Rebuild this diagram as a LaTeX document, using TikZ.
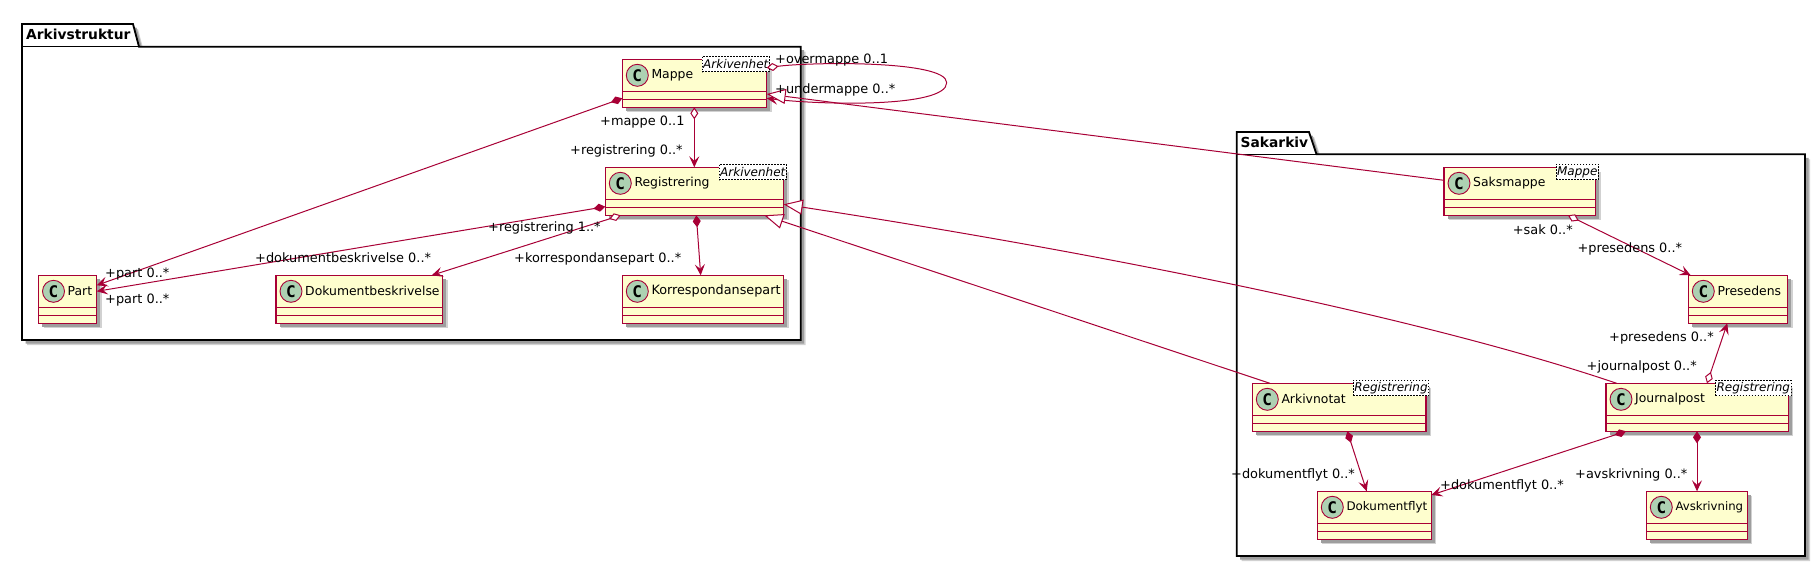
\documentclass[tikz,border=0pt]{standalone}
\usepackage{fontspec}
\setmainfont{DejaVu Sans}
\newfontfamily\iconfont{DejaVu Sans Mono}
\usetikzlibrary{shadows, arrows.meta}

\definecolor{umlred}{HTML}{A80036}
\definecolor{umlfill}{HTML}{FEFECE}
\definecolor{umlicon}{HTML}{ADD1B2}

\tikzset{
	softshadow/.style={general shadow={shadow xshift=5pt, shadow yshift=-5pt, fill=black!18}, general shadow={shadow xshift=3.5pt, shadow yshift=-3.5pt, fill=black!38}},
	package/.style={draw=black, line width=1.8pt, fill=white, softshadow},
	packagename/.style={inner sep=0pt, anchor=west, font=\fontsize{13.8}{16}\bfseries\selectfont},
	classbox/.style={draw=umlred, line width=1.4pt, fill=umlfill, anchor=north west, minimum height=48pt, inner sep=0pt, outer sep=0pt, softshadow},
	classline/.style={draw=umlred, line width=1.1pt},
	classicon/.style={draw=umlred, line width=0.9pt, fill=umlicon, circle, minimum size=22pt, inner sep=0pt, font=\fontsize{16}{16}\iconfont\bfseries\selectfont},
	classname/.style={inner sep=0pt, anchor=west, font=\fontsize{12.4}{14}\selectfont},
	stereo/.style={draw=black, dashed, dash pattern=on 1.5pt off 1.5pt, line width=0.6pt, fill=white, anchor=north east, minimum height=15.3pt, inner xsep=1pt, inner ysep=0pt, font=\fontsize{12}{14}\itshape\selectfont},
	role/.style={inner sep=0pt, anchor=west, text height=9.5pt, text depth=3pt, font=\fontsize{12.9}{14}\selectfont},
	link/.style={draw=umlred, line width=1pt},
	arrowend/.tip={Stealth[length=11pt, width=10pt, inset=4.5pt]},
	aggr/.style={link, {Diamond[open, fill=white, length=12pt, width=8pt]}-arrowend},
	comp/.style={link, {Diamond[length=12pt, width=8pt]}-arrowend},
	extends/.style={link, -{Triangle[open, fill=white, length=19pt, width=15pt]}}
}

\newcommand{\umlclass}[6][]{
	\node[classbox, minimum width=#5pt] (#2) at (#3,#4) {};
	\draw[classline] ([yshift=-32pt]#2.north west) -- ([yshift=-32pt]#2.north east);
	\draw[classline] ([yshift=-40pt]#2.north west) -- ([yshift=-40pt]#2.north east);
	\node[classicon] (#2-icon) at ([xshift=15pt,yshift=-16pt]#2.north west) {C};
	\node[classname, #1] (#2-name) at ([xshift=29pt,yshift=-15.8pt]#2.north west) {#6};
}
\newcommand{\umlstereo}[2]{
	\node[stereo] (#1-stereo) at ([xshift=3pt,yshift=3.3pt]#1.north east) {#2};
}

\begin{document}
\begin{tikzpicture}[x=1pt, y=-1pt]
	\useasboundingbox (0,0) rectangle (1815,566);
	
	% Arkivstruktur package
	\path[package] (22,46.7) -- (22,24) -- (133,24) -- (139,46.7) -- (800.7,46.7) -- (800.7,340) -- (22,340) -- cycle;
	\draw[line width=1.4pt] (22,46.7) -- (139,46.7);
	\node[packagename] (arkivstruktur) at (26,34.3) {Arkivstruktur};
	
	\umlclass{mappe}{622.3}{59.3}{144.4}{Mappe}
	\umlstereo{mappe}{Arkivenhet}
	\umlclass{registrering}{605.3}{167.3}{178.4}{Registrering}
	\umlstereo{registrering}{Arkivenhet}
	\umlclass{part}{38.5}{275.3}{58.2}{Part}
	\umlclass{dokumentbeskrivelse}{276}{275.3}{166.7}{Dokumentbeskrivelse}
	\umlclass[font=\fontsize{12.8}{14}\selectfont]{korrespondansepart}{622.3}{275.3}{161.4}{Korrespondansepart}
	
	% Sakarkiv package
	\path[package] (1236.7,154.3) -- (1236.7,132) -- (1309,132) -- (1316.5,154.3) -- (1805,154.3) -- (1805,556) -- (1236.7,556) -- cycle;
	\draw[line width=1.4pt] (1236.7,154.3) -- (1316.5,154.3);
	\node[packagename] (sakarkiv) at (1240.5,142.5) {Sakarkiv};
	
	\umlclass{saksmappe}{1444}{167.3}{151.7}{Saksmappe}
	\umlstereo{saksmappe}{Mappe}
	\umlclass{presedens}{1688.3}{275.3}{99.4}{Presedens}
	\umlclass{arkivnotat}{1252.3}{383.3}{173.7}{Arkivnotat}
	\umlstereo{arkivnotat}{Registrering}
	\umlclass{journalpost}{1606}{383.3}{182.3}{Journalpost}
	\umlstereo{journalpost}{Registrering}
	\umlclass[font=\fontsize{11.9}{14}\selectfont]{dokumentflyt}{1317.3}{491.3}{114}{Dokumentflyt}
	\umlclass[font=\fontsize{11.7}{14}\selectfont]{avskrivning}{1646.3}{491.3}{101}{Avskrivning}
	
	% Links inside Arkivstruktur
	\draw[comp] ([yshift=9pt]mappe.south west) -- ([yshift=-10pt]part.north east);
	\draw[comp] ([yshift=8.6pt]registrering.south west) -- ([yshift=-16pt]part.north east);
	\draw[aggr] ([xshift=15.4pt]registrering.south west) -- ([xshift=-11pt]dokumentbeskrivelse.north east);
	\draw[aggr] ([xshift=72pt]mappe.south west) -- ([xshift=89pt]registrering.north west);
	\draw[comp] ([xshift=91pt]registrering.south west) -- ([xshift=78.4pt]korrespondansepart.north west);
	\draw[aggr] ([yshift=-8.5pt]mappe.north east) .. controls (810,62) and (946.7,60) .. (946.7,82.7) .. controls (946.7,108) and (820,105) .. ([yshift=9pt]mappe.south east);
	
	% Links across the packages
	\draw[extends] ([yshift=-13pt]saksmappe.north west) -- ([yshift=13.3pt]mappe.south east);
	\draw[extends] ([xshift=10.7pt]journalpost.north west) .. controls (1400,310) and (1050,245) .. ([yshift=11pt]registrering.south east);
	\draw[extends] ([xshift=17.7pt]arkivnotat.north west) -- ([xshift=-19.4pt]registrering.south east);
	
	% Links inside Sakarkiv
	\draw[aggr] ([xshift=124pt]saksmappe.south west) -- ([xshift=2.4pt]presedens.north west);
	\draw[aggr] ([xshift=101pt]journalpost.north west) -- ([xshift=39pt]presedens.south west);
	\draw[comp] ([xshift=95pt]arkivnotat.south west) -- ([xshift=49.4pt]dokumentflyt.north west);
	\draw[comp] ([xshift=20pt]journalpost.south west) -- ([yshift=-3.7pt]dokumentflyt.north east);
	\draw[comp] ([xshift=91pt]journalpost.south west) -- ([xshift=50.7pt]avskrivning.north west);
	
	% Role labels
	\node[role] (r-overmappe) at (775,60) {+overmappe 0..1};
	\node[role] (r-undermappe) at (775,90.7) {+undermappe 0..*};
	\node[role] (r-mappe) at (600,122.7) {+mappe 0..1};
	\node[role] (r-registrering) at (570,151.7) {+registrering 0..*};
	\node[role] (r-registrering2) at (488,228.3) {+registrering 1..*};
	\node[role] (r-dokumentbeskrivelse) at (255,259.3) {+dokumentbeskrivelse 0..*};
	\node[role] (r-korrespondansepart) at (514,259.3) {+korrespondansepart 0..*};
	\node[role] (r-part) at (105,274.3) {+part 0..*};
	\node[role] (r-part2) at (105,300) {+part 0..*};
	\node[role] (r-sak) at (1512.7,231) {+sak 0..*};
	\node[role] (r-presedens) at (1577.3,248.8) {+presedens 0..*};
	\node[role] (r-presedens2) at (1609,338.7) {+presedens 0..*};
	\node[role] (r-journalpost) at (1586.5,367.3) {+journalpost 0..*};
	\node[role] (r-dokumentflyt) at (1231,475.7) {+dokumentflyt 0..*};
	\node[role] (r-dokumentflyt2) at (1440,486.7) {+dokumentflyt 0..*};
	\node[role] (r-avskrivning) at (1575,475.3) {+avskrivning 0..*};
	
\end{tikzpicture}
\end{document}
